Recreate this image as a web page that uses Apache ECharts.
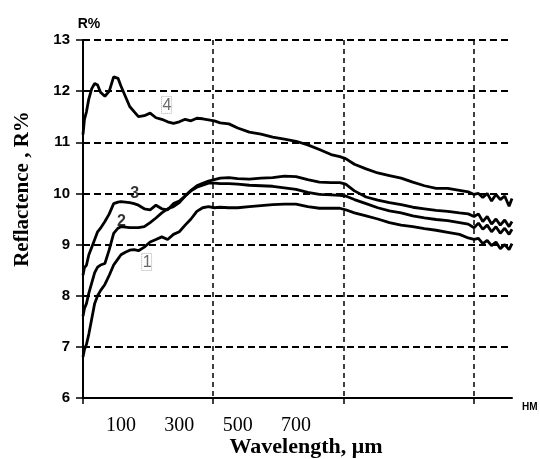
<!DOCTYPE html>
<html>
<head>
<meta charset="utf-8">
<script src="https://cdn.jsdelivr.net/npm/echarts@6/dist/echarts.min.js"></script>
<style>
  html, body { margin: 0; padding: 0; background: #fff; }
  #chart { width: 540px; height: 459px; }
</style>
</head>
<body>
<div id="chart"></div>
<script>
// wavelength positions of the samples (units of the printed x labels)
const wavelength = [-30, -25, -18, -10, 0, 10, 20, 30, 45, 60, 75, 90, 100, 115, 130, 145, 160, 180, 200, 220,
    240, 260, 280, 300, 320, 340, 360, 380, 400, 420, 440, 470, 500, 540, 580, 620, 660, 700, 740, 780,
    820, 850, 870, 900, 940, 980, 1020, 1060, 1100, 1140, 1180, 1220, 1260, 1290, 1310, 1325, 1340, 1355,
    1370, 1385, 1400, 1415, 1430, 1440];

// reflectance, %
const curve1 = [6.8, 6.95, 7.05, 7.25, 7.55, 7.85, 8.0, 8.1, 8.22, 8.4, 8.6, 8.72, 8.8, 8.85, 8.89, 8.9, 8.88, 8.95, 9.05, 9.1,
    9.15, 9.1, 9.2, 9.25, 9.38, 9.5, 9.65, 9.72, 9.74, 9.72, 9.73, 9.72, 9.72, 9.74, 9.76, 9.78, 9.79, 9.79, 9.74, 9.71,
    9.71, 9.71, 9.68, 9.62, 9.56, 9.5, 9.43, 9.38, 9.35, 9.31, 9.28, 9.24, 9.2, 9.13, 9.1, 9.12, 9.02, 9.08,
    8.98, 9.05, 8.92, 9.0, 8.9, 9.02];
const curve2 = [7.6, 7.75, 7.85, 8.05, 8.25, 8.45, 8.56, 8.6, 8.63, 8.9, 9.22, 9.32, 9.35, 9.34, 9.33, 9.33, 9.33, 9.35, 9.43, 9.52,
    9.62, 9.7, 9.74, 9.82, 9.95, 10.05, 10.12, 10.16, 10.2, 10.2, 10.19, 10.19, 10.18, 10.16, 10.15, 10.14, 10.11, 10.08, 10.02, 9.98,
    9.97, 9.96, 9.95, 9.88, 9.8, 9.72, 9.66, 9.62, 9.56, 9.52, 9.49, 9.47, 9.43, 9.4, 9.33, 9.42, 9.3, 9.38,
    9.25, 9.35, 9.22, 9.32, 9.2, 9.3];
const curve3 = [8.4, 8.55, 8.6, 8.8, 8.95, 9.1, 9.25, 9.32, 9.45, 9.6, 9.8, 9.83, 9.84, 9.83, 9.82, 9.8, 9.77, 9.7, 9.68, 9.77,
    9.7, 9.68, 9.8, 9.85, 9.95, 10.06, 10.15, 10.2, 10.24, 10.27, 10.3, 10.31, 10.29, 10.28, 10.3, 10.31, 10.34, 10.33, 10.27, 10.22,
    10.21, 10.21, 10.18, 10.05, 9.93, 9.87, 9.82, 9.78, 9.73, 9.7, 9.67, 9.65, 9.62, 9.6, 9.55, 9.6, 9.45, 9.55,
    9.4, 9.5, 9.38, 9.48, 9.35, 9.45];
const curve4 = [11.15, 11.45, 11.6, 11.85, 12.05, 12.15, 12.12, 11.98, 11.9, 12.0, 12.28, 12.25, 12.1, 11.9, 11.7, 11.6, 11.5, 11.52, 11.57, 11.48,
    11.45, 11.4, 11.37, 11.4, 11.45, 11.42, 11.47, 11.46, 11.44, 11.42, 11.38, 11.36, 11.28, 11.2, 11.16, 11.1, 11.06, 11.02, 10.95, 10.86,
    10.76, 10.72, 10.68, 10.57, 10.48, 10.4, 10.35, 10.3, 10.22, 10.15, 10.1, 10.1, 10.06, 10.03, 9.98, 10.0, 9.92, 10.0,
    9.85, 9.98, 9.88, 9.95, 9.75, 9.9];

const xTickLabels = [100, 300, 500, 700];
const gridDivisions = [0, 1, 2, 3];

// curve numbers: [wavelength, R, text]
const curveTags = [
    [256, 11.73, '4'],
    [147, 9.99, '3'],
    [102, 9.44, '2'],
    [188, 8.66, '1']
];

const chart = echarts.init(document.getElementById('chart'));

const pair = (ys) => wavelength.map((w, i) => [w, ys[i]]);

const curveSeries = [curve1, curve2, curve3, curve4].map((ys, k) => ({
    name: 'curve ' + (k + 1),
    type: 'line',
    xAxisIndex: 0,
    yAxisIndex: 0,
    data: pair(ys),
    showSymbol: false,
    smooth: false,
    lineStyle: { color: '#000', width: 2.8 },
    z: 3
}));

const boxedTag = {
    fontFamily: 'Liberation Sans, Arial, sans-serif',
    fontSize: 16,
    color: '#444',
    borderColor: '#999',
    borderWidth: 1,
    borderType: 'dotted',
    padding: [1, 0, 0, 1]
};
const boldTag = {
    fontFamily: 'Liberation Sans, Arial, sans-serif',
    fontSize: 16,
    fontWeight: 'bold',
    color: '#000'
};

const serif = 'Liberation Serif, Times New Roman, serif';
const sans = 'Liberation Sans, Arial, sans-serif';

const option = {
    animation: false,
    backgroundColor: '#fff',
    grid: { left: 83, right: 28, top: 40, bottom: 61, outerBoundsMode: 'none', containLabel: false },
    xAxis: [
        {
            // printed wavelength labels
            type: 'value',
            min: -30,
            max: 1440,
            position: 'bottom',
            axisLine: { show: false, onZero: false },
            axisTick: { show: false },
            splitLine: { show: false },
            axisLabel: {
                customValues: xTickLabels,
                margin: 18,
                fontFamily: serif,
                fontSize: 20,
                color: '#000'
            },
            name: 'Wavelength, \u03bcm',
            nameLocation: 'middle',
            nameGap: 38,
            nameMoveOverlap: false,
            nameTextStyle: {
                fontFamily: serif,
                fontSize: 22,
                fontWeight: 'bold',
                color: '#000',
                padding: [0, 0, 0, 17]
            }
        },
        {
            // grid divisions
            type: 'value',
            min: 0,
            max: 3.295,
            interval: 1,
            position: 'bottom',
            axisLine: { show: true, onZero: false, lineStyle: { color: '#000', width: 2 } },
            axisTick: { show: true, customValues: gridDivisions, length: 6, lineStyle: { color: '#000', width: 1.5 } },
            axisLabel: { show: false },
            splitLine: { show: true, lineStyle: { color: '#000', width: 1.5, type: [5, 4] } },
            name: 'HM',
            nameLocation: 'end',
            nameGap: 10,
            nameTextStyle: {
                fontFamily: sans,
                fontSize: 10,
                fontWeight: 'bold',
                color: '#000',
                verticalAlign: 'top',
                padding: [4, 0, 0, 0]
            }
        }
    ],
    yAxis: [
        {
            type: 'value',
            min: 6,
            max: 13,
            interval: 1,
            axisLine: { show: true, onZero: false, lineStyle: { color: '#000', width: 2 } },
            axisTick: { show: true, length: 7, lineStyle: { color: '#000', width: 1.5 } },
            axisLabel: {
                margin: 13,
                fontFamily: sans,
                fontSize: 15,
                fontWeight: 'bold',
                color: '#000'
            },
            splitLine: { show: true, lineStyle: { color: '#000', width: 1.8, type: [7, 4] } },
            name: 'R%',
            nameLocation: 'end',
            nameGap: 9,
            nameTextStyle: {
                fontFamily: sans,
                fontSize: 14,
                fontWeight: 'bold',
                color: '#000',
                padding: [0, 0, 0, 12]
            }
        },
        {
            type: 'value',
            min: 6,
            max: 13,
            position: 'left',
            axisLine: { show: false, onZero: false },
            axisTick: { show: false },
            axisLabel: { show: false },
            splitLine: { show: false },
            name: 'Reflactence , R%',
            nameLocation: 'middle',
            nameGap: 50,
            nameMoveOverlap: false,
            nameTextStyle: {
                fontFamily: serif,
                fontSize: 21,
                fontWeight: 'bold',
                color: '#000',
                padding: [0, 0, 0, 60]
            }
        }
    ],
    series: [
        ...curveSeries,
        {
            name: 'tags',
            type: 'scatter',
            xAxisIndex: 0,
            yAxisIndex: 0,
            symbolSize: 1,
            itemStyle: { color: 'rgba(0,0,0,0)' },
            data: curveTags.map(t => ({ value: [t[0], t[1]], name: t[2] })),
            label: {
                show: true,
                position: 'inside',
                formatter: p => (p.name === '3' || p.name === '2') ? '{b|' + p.name + '}' : '{x|' + p.name + '}',
                rich: { b: boldTag, x: boxedTag }
            },
            z: 5
        }
    ]
};

chart.setOption(option);
</script>
</body>
</html>
